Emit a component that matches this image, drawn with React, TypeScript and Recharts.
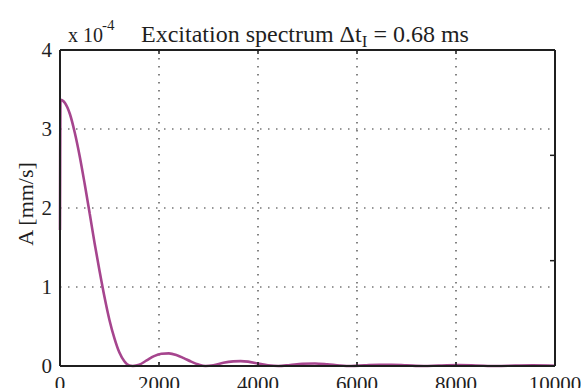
import { LineChart, Line, XAxis, YAxis, CartesianGrid } from "recharts";

// frequency [Hz] and amplitude [x 10^-4 mm/s]
const freq = [
  0, 10, 100, 200, 300, 400, 500, 600, 700, 800, 900, 1000, 1100, 1200, 1300, 1400, 1470,
  1600, 1750, 1900, 2050, 2200, 2350, 2500, 2650, 2800, 2940,
  3100, 3300, 3500, 3650, 3800, 4000, 4200, 4410,
  4650, 4900, 5150, 5400, 5650, 5880,
  6150, 6450, 6700, 7000, 7350,
  7650, 8050, 8400, 8820,
  9200, 9550, 10000,
];
const amp = [
  1.72, 3.37, 3.33, 3.19, 2.95, 2.65, 2.3, 1.93, 1.55, 1.2, 0.87, 0.58, 0.35, 0.17, 0.06, 0.005, 0,
  0.015, 0.07, 0.125, 0.155, 0.16, 0.14, 0.1, 0.055, 0.018, 0,
  0.01, 0.04, 0.058, 0.062, 0.055, 0.03, 0.01, 0,
  0.013, 0.028, 0.032, 0.022, 0.007, 0,
  0.008, 0.016, 0.015, 0.008, 0,
  0.006, 0.011, 0.007, 0,
  0.005, 0.008, 0.003,
];

const xTicks = [0, 2000, 4000, 6000, 8000, 10000];
const yTicks = [0, 1, 2, 3, 4];
const rightTicks = [4 / 3, 8 / 3];

const data = freq.map((f, i) => ({ f, a: amp[i] }));

const FONT = "'Liberation Serif', 'Times New Roman', serif";
const INK = "#1f1f1f";

// inward tick marks drawn by hand at the tick position recharts hands us
const BottomTick = (props: any) => {
  const { x, y, payload } = props;
  const inner = payload.value > 0 && payload.value < 10000;
  return (
    <g>
      {inner && <line x1={x} x2={x} y1={y - 4} y2={y} stroke={INK} strokeWidth={1.5} />}
      <text
        x={x}
        y={y + 10}
        dy="0.71em"
        textAnchor="middle"
        fontSize={21}
        fontFamily={FONT}
        fill={INK}
      >
        {payload.value}
      </text>
    </g>
  );
};

const TopTick = (props: any) => {
  const { x, y, payload } = props;
  if (payload.value <= 0 || payload.value >= 10000) return <g />;
  return <line x1={x} x2={x} y1={y} y2={y + 4} stroke={INK} strokeWidth={1.5} />;
};

const RightTick = (props: any) => {
  const { x, y } = props;
  return <line x1={x - 5} x2={x} y1={y} y2={y} stroke={INK} strokeWidth={1.5} />;
};

export default function App() {
  return (
    <div
      style={{
        position: "absolute",
        left: 0,
        top: 0,
        width: 581,
        height: 388,
        overflow: "hidden",
        background: "#fff",
      }}
    >
      <LineChart
        width={581}
        height={410}
        data={data}
        margin={{ top: 0, right: 0, bottom: 14, left: 0 }}
      >
        <CartesianGrid
          stroke="#333"
          strokeDasharray="1.5 6.5"
          strokeWidth={1.2}
        />
        <XAxis
          dataKey="f"
          type="number"
          domain={[0, 10000]}
          ticks={xTicks}
          interval={0}
          height={30}
          tickSize={0}
          tickMargin={0}
          tickLine={false}
          axisLine={{ stroke: INK, strokeWidth: 2 }}
          tick={BottomTick}
        />
        <XAxis
          xAxisId="topAx"
          dataKey="f"
          type="number"
          orientation="top"
          domain={[0, 10000]}
          ticks={xTicks}
          interval={0}
          height={50}
          tickSize={0}
          tickMargin={0}
          tickLine={false}
          tick={TopTick}
          axisLine={{ stroke: INK, strokeWidth: 2 }}
        />
        <YAxis
          type="number"
          domain={[0, 4]}
          ticks={yTicks}
          width={60}
          tickSize={0}
          tickMargin={8}
          axisLine={{ stroke: INK, strokeWidth: 2 }}
          tick={{ fontSize: 21, fill: INK, fontFamily: FONT }}
        />
        <YAxis
          yAxisId="rightAx"
          type="number"
          orientation="right"
          domain={[0, 4]}
          ticks={rightTicks}
          interval={0}
          width={26}
          tickSize={0}
          tickMargin={0}
          tickLine={false}
          tick={RightTick}
          axisLine={{ stroke: INK, strokeWidth: 2 }}
        />
        {/* same series on the top/right axes, not stroked, so those axes get their ticks */}
        <Line
          xAxisId="topAx"
          yAxisId="rightAx"
          type="monotone"
          dataKey="a"
          stroke="none"
          dot={false}
          legendType="none"
          isAnimationActive={false}
        />
        <Line
          type="monotone"
          dataKey="a"
          stroke="#a6458e"
          strokeWidth={2.6}
          dot={false}
          isAnimationActive={false}
        />
      </LineChart>

      {/* title and y label */}
      <svg
        width={581}
        height={388}
        style={{ position: "absolute", left: 0, top: 0, pointerEvents: "none" }}
        fontFamily={FONT}
        fill={INK}
      >
        <text x={68} y={42} fontSize={20}>
          x 10
        </text>
        <text x={102} y={30} fontSize={15}>
          -4
        </text>
        <text x={141} y={42} fontSize={24}>
          Excitation spectrum Δt
          <tspan dy={5} fontSize={17}>
            I
          </tspan>
          <tspan dy={-5}> = 0.68 ms</tspan>
        </text>
        <text
          x={25}
          y={204}
          fontSize={22}
          textAnchor="middle"
          dominantBaseline="central"
          transform="rotate(-90 25 204)"
        >
          A [mm/s]
        </text>
      </svg>
    </div>
  );
}
